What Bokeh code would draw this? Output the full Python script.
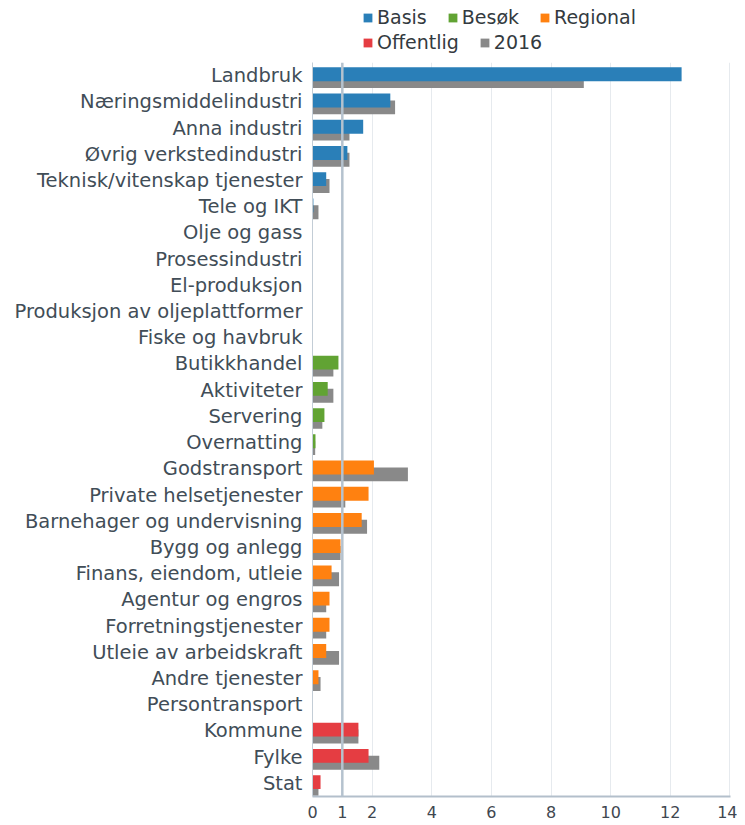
from bokeh.plotting import figure
from bokeh.layouts import column
from bokeh.models import (ColumnDataSource, FactorRange, Range1d, FixedTicker, Span,
                          Legend, LegendItem)
from bokeh.transform import dodge
from bokeh.embed import file_html
from bokeh.resources import INLINE

# ---- data ----
basis_cats = ["Landbruk", "Næringsmiddelindustri", "Anna industri", "Øvrig verkstedindustri",
              "Teknisk/vitenskap tjenester", "Tele og IKT", "Olje og gass", "Prosessindustri",
              "El-produksjon", "Produksjon av oljeplattformer", "Fiske og havbruk"]
basis_vals = [12.38, 2.61, 1.70, 1.17, 0.46, 0.03, 0, 0, 0, 0, 0]
basis_2016 = [9.10, 2.77, 1.24, 1.24, 0.57, 0.20, 0, 0, 0, 0, 0]

besok_cats = ["Butikkhandel", "Aktiviteter", "Servering", "Overnatting"]
besok_vals = [0.87, 0.51, 0.40, 0.10]
besok_2016 = [0.70, 0.70, 0.33, 0.09]

regional_cats = ["Godstransport", "Private helsetjenester", "Barnehager og undervisning",
                 "Bygg og anlegg", "Finans, eiendom, utleie", "Agentur og engros",
                 "Forretningstjenester", "Utleie av arbeidskraft", "Andre tjenester",
                 "Persontransport"]
regional_vals = [2.06, 1.88, 1.65, 0.94, 0.64, 0.57, 0.57, 0.46, 0.20, 0]
regional_2016 = [3.20, 1.10, 1.83, 0.94, 0.89, 0.46, 0.46, 0.89, 0.27, 0]

offentlig_cats = ["Kommune", "Fylke", "Stat"]
offentlig_vals = [1.54, 1.88, 0.27]
offentlig_2016 = [1.54, 2.24, 0.20]

x_ticks = [0, 1, 2, 4, 6, 8, 10, 12, 14]
grid_ticks = [2, 4, 6, 8, 10, 12, 14]
reference_value = 1

series = [
    ("Basis", basis_cats, basis_vals, basis_2016, "#2a7fb8"),
    ("Besøk", besok_cats, besok_vals, besok_2016, "#61a333"),
    ("Regional", regional_cats, regional_vals, regional_2016, "#ff8110"),
    ("Offentlig", offentlig_cats, offentlig_vals, offentlig_2016, "#e53d42"),
]
color_2016 = "#898989"

all_cats = basis_cats + besok_cats + regional_cats + offentlig_cats

FONT = "DejaVu Sans"

# ---- main chart ----
p = figure(width=737, height=763, output_backend="svg", toolbar_location=None,
           y_range=FactorRange(factors=list(reversed(all_cats)), range_padding=0),
           x_range=Range1d(0, 14.02),
           min_border_left=312, min_border_right=7, min_border_top=0, min_border_bottom=29)
p.outline_line_color = None
p.background_fill_color = "white"

p.xgrid.ticker = FixedTicker(ticks=grid_ticks)
p.xgrid.grid_line_color = "#e6eaee"
p.xgrid.grid_line_width = 1
p.ygrid.grid_line_color = None

p.add_layout(Span(location=reference_value, dimension="height",
                  line_color="#b5c2ce", line_width=2.5))

for name, cats, vals, vals16, col in series:
    src = ColumnDataSource(dict(cat=cats, v=vals, v16=vals16))
    p.hbar(y=dodge("cat", -0.21, range=p.y_range), left=0, right="v16", height=0.53,
           source=src, fill_color=color_2016, line_color=None)
for name, cats, vals, vals16, col in series:
    src = ColumnDataSource(dict(cat=cats, v=vals, v16=vals16))
    p.hbar(y=dodge("cat", 0.05, range=p.y_range), left=0, right="v", height=0.53,
           source=src, fill_color=col, line_color=None)

p.xaxis.ticker = FixedTicker(ticks=x_ticks)
p.xaxis.major_tick_line_color = None
p.xaxis.minor_tick_line_color = None
p.xaxis.axis_line_color = "#b3bfcb"
p.xaxis.axis_line_width = 2
p.xaxis.major_label_text_font = FONT
p.xaxis.major_label_text_font_size = "16px"
p.xaxis.major_label_text_color = "#3f4750"
p.xaxis.major_label_standoff = 3

p.yaxis.major_tick_line_color = None
p.yaxis.minor_tick_line_color = None
p.yaxis.axis_line_color = "#c3cdd6"
p.yaxis.axis_line_width = 1
p.yaxis.major_label_text_font = FONT
p.yaxis.major_label_text_font_size = "19.5px"
p.yaxis.major_label_text_color = "#414d57"
p.yaxis.major_label_standoff = 4

# ---- legend strip (frame is aligned with the chart's frame by the column layout) ----
lf = figure(width=737, height=62, output_backend="svg", toolbar_location=None,
            x_range=Range1d(0, 1), y_range=Range1d(0, 1),
            x_axis_type=None, y_axis_type=None,
            min_border_left=312, min_border_right=7, min_border_top=0, min_border_bottom=0)
lf.outline_line_color = None
lf.grid.grid_line_color = None

# zero-width proxy bars (outside the visible range) that only feed the legend swatches
leg_r = {}
for name, cats, vals, vals16, col in series:
    leg_r[name] = lf.hbar(y=[-1], left=[0], right=[0], height=0.5, fill_color=col,
                          line_color=None)
leg_r["2016"] = lf.hbar(y=[-1], left=[0], right=[0], height=0.5, fill_color=color_2016,
                        line_color=None)

def make_legend(names, loc):
    return Legend(items=[LegendItem(label=n, renderers=[leg_r[n]]) for n in names],
                  orientation="horizontal", location=loc,
                  label_text_font=FONT, label_text_font_size="19px",
                  label_text_color="#333a40", glyph_width=11, glyph_height=11,
                  label_standoff=4, spacing=20, padding=0, margin=0, label_height=22,
                  border_line_color=None, background_fill_alpha=0)

lf.add_layout(make_legend(["Basis", "Besøk", "Regional"], (50, 34)), "center")
lf.add_layout(make_legend(["Offentlig", "2016"], (50, 9)), "center")

layout = column(lf, p, spacing=0)
open("out.html", "w").write(file_html(layout, INLINE))
